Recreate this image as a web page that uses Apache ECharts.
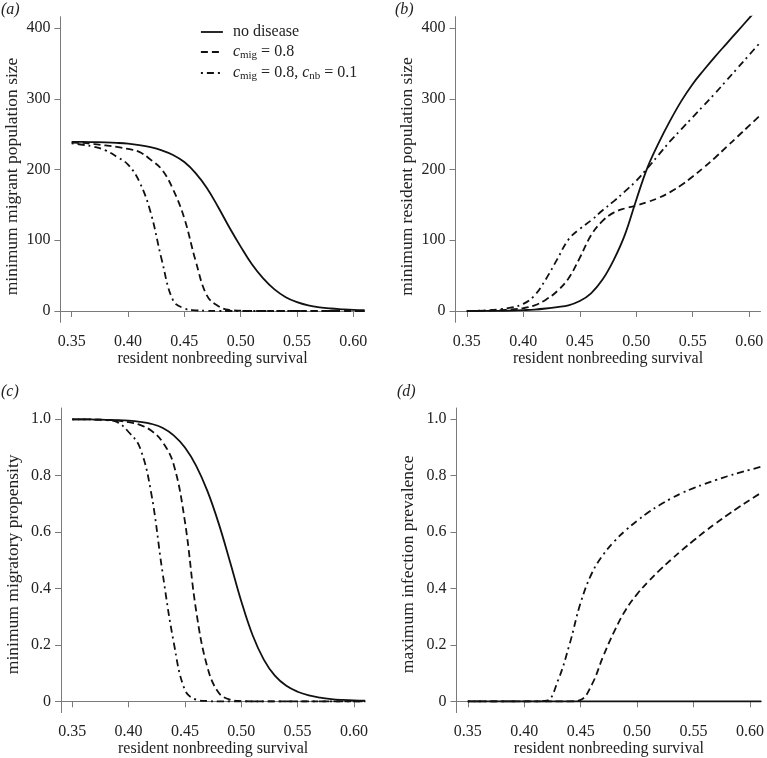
<!DOCTYPE html>
<html>
<head>
<meta charset="utf-8">
<script src="https://cdn.jsdelivr.net/npm/echarts@6/dist/echarts.min.js"></script>
<style>html,body{margin:0;padding:0;background:#fff;}#c{width:767px;height:758px;}</style>
</head>
<body>
<div id="c"></div>
<script>
// x values (resident nonbreeding survival)
const xs = [0.35,0.36,0.37,0.38,0.39,0.40,0.41,0.42,0.43,0.44,0.45,0.46,0.47,0.48,0.49,0.50,0.51,0.52,0.53,0.54,0.55,0.56,0.57,0.58,0.59,0.60,0.61];

// (a) minimum migrant population size
const solidA  = [239,239,238.7,238.3,237.6,236.5,234.5,231.5,227,220.5,210.5,195,174,147,118,91,66,46,30.5,19.5,12.5,8,5.2,3.5,2.4,1.5,1];
const dashedA = [238,237.5,236,234,232,229,225,214,200,172,131,71,22,7,1.5,0.4,0,0,0,0,0,0,0,0,0,0,0];
const dotA    = [237,235,232,227,218,207,183,140,72,15,3.5,1,0.3,0,0,0,0,0,0,0,0,0,0,0,0,0,0];

// (b) minimum resident population size
const solidB  = [0,0,0.1,0.3,0.6,1.2,2,3.5,5.5,8,14,25,44,72,108,157,203,238,269,297,321,341,360,378,396,414,432];
const dashedB = [0,0.2,0.6,1.2,2.2,4,8,16,28,46,75,107,127,139,145,149,154,160,168,178,190,203,217,232,247,262,277];
const dotB    = [0,0.3,1,2.5,5,10,22,45,73,101,116,128,142,155,169,184,202,221,240,257,274,291,308,326,344,362,380];

// (c) minimum migratory propensity
const solidC  = [1,1,0.999,0.998,0.997,0.995,0.991,0.984,0.97,0.943,0.9,0.835,0.745,0.63,0.495,0.355,0.235,0.148,0.09,0.055,0.034,0.021,0.013,0.008,0.005,0.003,0.002];
const dashedC = [1,1,0.999,0.998,0.995,0.99,0.98,0.96,0.92,0.84,0.637,0.32,0.12,0.03,0.006,0.001,0,0,0,0,0,0,0,0,0,0,0];
const dotC    = [1,1,0.999,0.997,0.99,0.955,0.9,0.74,0.46,0.21,0.04,0.006,0.001,0,0,0,0,0,0,0,0,0,0,0,0,0,0];

// (d) maximum infection prevalence
const solidD  = [0,0,0,0,0,0,0,0,0,0,0,0,0,0,0,0,0,0,0,0,0,0,0,0,0,0,0];
const dashedD = [0,0,0,0,0,0,0,0,0,0,0.005,0.06,0.16,0.25,0.325,0.38,0.425,0.465,0.502,0.537,0.57,0.602,0.632,0.661,0.688,0.714,0.74];
const dotD    = [0,0,0,0,0,0,0,0.002,0.075,0.2,0.35,0.455,0.52,0.568,0.607,0.64,0.67,0.696,0.719,0.739,0.756,0.771,0.785,0.798,0.81,0.821,0.832];

// tick labels
const xTicks = [0.35,0.40,0.45,0.50,0.55,0.60];
const yTicksPop = [0,100,200,300,400];
const yTicksProp = [0,0.2,0.4,0.6,0.8,1.0];

const seriesNames = ['no disease','cmig','cmignb'];
const yNames = ['minimum migrant population size','minimum resident population size','minimum migratory propensity','maximum infection prevalence'];
const panelLabels = ['(a)','(b)','(c)','(d)'];

const FONT = "'Liberation Serif', 'Times New Roman', serif";
const AXIS_COLOR = '#7a7a7a';
const TEXT_COLOR = '#222';

const grids = [
  {left: 60.4, top: 16.7, width: 304.2, height: 305.6},
  {left: 455.5, top: 16.7, width: 305, height: 305.6},
  {left: 61, top: 408, width: 304.2, height: 304.6},
  {left: 456.5, top: 408, width: 305, height: 304.6}
];

const styles = [
  {type: 'solid'},
  {type: [7, 4]},
  {type: [2, 4, 7, 4]}
];

const dataSets = [
  [solidA, dashedA, dotA],
  [solidB, dashedB, dotB],
  [solidC, dashedC, dotC],
  [solidD, dashedD, dotD]
];

function pairs(arr){ return xs.map((x,i)=>[x, arr[i]]); }

const xAxes = grids.map((g,i)=>({
  type: 'value', gridIndex: i, min: 0.34, max: 0.61,
  name: 'resident nonbreeding survival', nameLocation: 'middle', nameGap: 28,
  nameTextStyle: {fontFamily: FONT, fontSize: 16, color: TEXT_COLOR},
  axisLine: {show: true, lineStyle: {color: AXIS_COLOR, width: 1}},
  axisTick: {show: true, length: 6, inside: false, customValues: xTicks, lineStyle: {color: AXIS_COLOR}},
  axisLabel: {show: true, customValues: xTicks, margin: 11, fontFamily: FONT, fontSize: 16, color: TEXT_COLOR,
    formatter: v => v.toFixed(2)},
  splitLine: {show: false}
}));

const yAxes = grids.map((g,i)=>{
  const pop = i < 2;
  return {
    type: 'value', gridIndex: i,
    min: pop ? -16 : -0.04, max: pop ? 416 : 1.04,
    name: yNames[i], nameLocation: 'middle', nameGap: 39,
    nameTextStyle: {fontFamily: FONT, fontSize: 17.5, color: TEXT_COLOR, padding: [0, pop ? 14 : 8, 0, 0]},
    axisLine: {show: true, lineStyle: {color: AXIS_COLOR, width: 1}},
    axisTick: {show: true, length: 6, customValues: pop ? yTicksPop : yTicksProp, lineStyle: {color: AXIS_COLOR}},
    axisLabel: {show: true, customValues: pop ? yTicksPop : yTicksProp, margin: 10, fontFamily: FONT, fontSize: 16, color: TEXT_COLOR,
      formatter: v => pop ? String(Math.round(v)) : (v === 0 ? '0' : v.toFixed(1))},
    splitLine: {show: false}
  };
});

const series = [];
dataSets.forEach((set, gi)=>{
  set.forEach((arr, si)=>{
    series.push({
      type: 'line', name: seriesNames[si], xAxisIndex: gi, yAxisIndex: gi,
      data: pairs(arr), showSymbol: false, symbol: 'none',
      smooth: 0.4, clip: true,
      lineStyle: {color: '#111', width: 1.8, type: styles[si].type},
      itemStyle: {color: '#111'},
      z: 3 - si
    });
  });
});

const titlePos = [
  {left: 1, top: 2}, {left: 395, top: 2}, {left: 1, top: 384}, {left: 397, top: 384}
];

const option = {
  animation: false,
  backgroundColor: '#fff',
  title: panelLabels.map((t,i)=>({text: t, left: titlePos[i].left, top: titlePos[i].top, padding: 0,
    textStyle: {fontFamily: FONT, fontSize: 16, fontStyle: 'italic', fontWeight: 'normal', color: TEXT_COLOR}})),
  legend: {
    show: true, orient: 'vertical', left: 200, top: 24, padding: 0,
    itemWidth: 22, itemHeight: 14, itemGap: 4,
    data: seriesNames,
    itemStyle: {opacity: 0},
    lineStyle: {width: 1.8},
    textStyle: {fontFamily: FONT, fontSize: 16, color: TEXT_COLOR,
      rich: {
        sp: {width: 5},
        i: {fontFamily: FONT, fontSize: 16, fontStyle: 'italic', color: TEXT_COLOR},
        sub: {fontFamily: FONT, fontSize: 11, color: TEXT_COLOR, verticalAlign: 'bottom', padding: [7,0,0,0]},
        n: {fontFamily: FONT, fontSize: 16, color: TEXT_COLOR}
      }},
    formatter: function(name){
      if (name === 'cmig') return '{sp|}{i|c}{sub|mig}{n| = 0.8}';
      if (name === 'cmignb') return '{sp|}{i|c}{sub|mig}{n| = 0.8, }{i|c}{sub|nb}{n| = 0.1}';
      return '{sp|}{n|' + name + '}';
    },
    selectedMode: false
  },
  grid: grids.map(g=>Object.assign({containLabel: false}, g)),
  xAxis: xAxes,
  yAxis: yAxes,
  series: series
};

const chart = echarts.init(document.getElementById('c'), null, {renderer: 'canvas'});
chart.setOption(option);
</script>
</body>
</html>
